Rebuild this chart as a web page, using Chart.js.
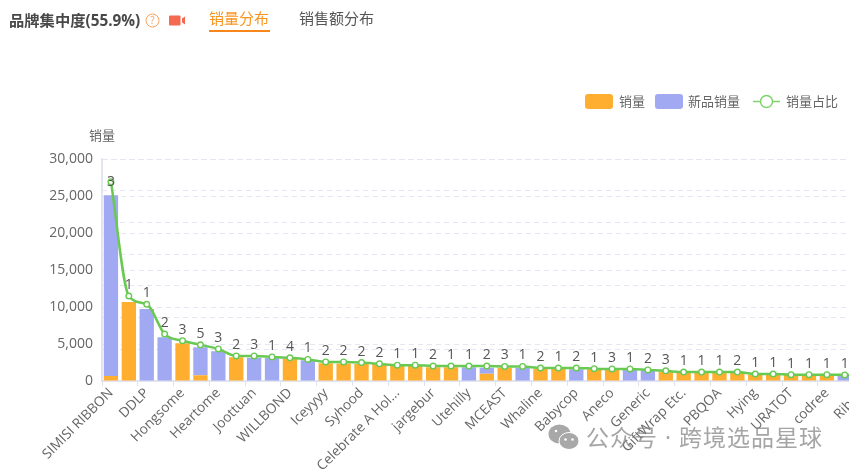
<!DOCTYPE html>
<html lang="zh">
<head>
<meta charset="utf-8">
<script src="https://cdn.jsdelivr.net/npm/chart.js@4"></script>
<style>
html,body{margin:0;padding:0;background:#fff;width:849px;height:471px;overflow:hidden;font-family:"Open Sans","Noto Sans CJK SC",sans-serif}
#wrap{position:relative;width:849px;height:471px;overflow:hidden}
canvas{position:absolute;left:0;top:0}
.t{position:absolute;white-space:nowrap;line-height:1}
.sw{position:absolute;width:28px;height:15px;border-radius:3px}
</style>
</head>
<body>
<div id="wrap">
<canvas id="c" width="877" height="471"></canvas>
<div class="t" style="left:9px;top:13px;font-size:15.3px;font-weight:700;color:#484848">品牌集中度(55.9%)</div>
<svg style="position:absolute;left:145px;top:13px" width="15" height="15" viewBox="0 0 15 15"><circle cx="7.5" cy="7.5" r="6.5" fill="none" stroke="#f6a35c" stroke-width="1"/><text x="7.5" y="11" text-anchor="middle" font-size="10" fill="#f6a35c" font-family="Open Sans">?</text></svg>
<svg style="position:absolute;left:169px;top:15px" width="17" height="11" viewBox="0 0 17 11"><rect x="0" y="0.5" width="11.5" height="10" rx="1" fill="#f4694f"/><path d="M13 3.5 L16 1.5 V9.5 L13 7.5Z" fill="#f4694f"/></svg>
<div class="t" style="left:209px;top:11px;font-size:15px;color:#f7941d">销量分布</div>
<div style="position:absolute;left:209px;top:30px;width:61px;height:2px;background:#f7861b"></div>
<div class="t" style="left:299px;top:11px;font-size:15px;color:#555">销售额分布</div>
<div class="sw" style="left:585px;top:94px;background:#ffae2f"></div>
<div class="t" style="left:619px;top:95px;font-size:13px;color:#666">销量</div>
<div class="sw" style="left:655px;top:94px;background:#a0a9f2"></div>
<div class="t" style="left:688px;top:95px;font-size:13px;color:#666">新品销量</div>
<svg style="position:absolute;left:752px;top:93px" width="29" height="17" viewBox="0 0 29 17"><path d="M1 8.5H28" stroke="#7fd36a" stroke-width="1.5"/><circle cx="14.5" cy="8.5" r="6" fill="#fff" stroke="#7fd36a" stroke-width="1.5"/></svg>
<div class="t" style="left:786px;top:95px;font-size:13px;color:#666">销量占比</div>
<div class="t" style="left:89px;top:129px;font-size:13px;color:#666">销量</div>
<svg style="position:absolute;left:548px;top:423px" width="32" height="28" viewBox="0 0 32 28"><ellipse cx="11.5" cy="11" rx="11" ry="9.5" fill="#a8a8a8"/><ellipse cx="21" cy="18" rx="10" ry="8.5" fill="#a8a8a8" stroke="#fff" stroke-width="1"/><circle cx="17.5" cy="16.5" r="1.3" fill="#fff"/><circle cx="24.5" cy="16.5" r="1.3" fill="#fff"/><circle cx="8" cy="8" r="1.3" fill="#fff"/></svg>
<div class="t" style="left:586px;top:426px;font-size:23px;color:rgba(130,130,130,.72);letter-spacing:1px">公众号 · 跨境选品星球</div>
</div>
<script>
const categories = ["SIMISI RIBBON","b1","DDLP","b3","Hongsome","b5","Heartome","b7","Joottuan","b9","WILLBOND","b11","Iceyyyy","b13","Syhood","b15","Celebrate A Hol...","b17","jargebur","b19","Utehilly","b21","MCEAST","b23","Whaline","b25","Babycop","b27","Aneco","b29","Generic","b31","GiftWrap Etc.","b33","PBQOA","b35","Hying","b37","URATOT","b39","codree","b41","Ribon"];
const salesValues = [680,10680,0,0,5090,770,0,3200,0,0,3000,0,2400,2350,2300,2250,2050,2050,1850,1850,0,990,1800,0,1650,1650,0,1600,1550,0,0,1250,1150,1150,1100,1100,850,800,800,780,770,0,700];
const newProductValues = [24420,0,9730,5900,0,3780,4010,0,3150,3100,0,2800,0,0,0,0,0,0,0,0,1850,810,0,1750,0,0,1600,0,0,1500,1450,0,0,0,0,0,0,0,0,0,0,720,0];
const shareValues = [31.4,13.4,12.1,7.4,6.35,5.7,5.05,3.95,3.95,3.8,3.65,3.4,3.0,3.0,2.9,2.7,2.5,2.5,2.35,2.35,2.35,2.35,2.3,2.3,2.05,2.05,2.05,1.95,1.9,1.9,1.75,1.6,1.4,1.4,1.4,1.4,1.1,1.1,1.0,1.0,1.0,0.95,0.9];
const pointLabels = [3,1,1,2,3,5,3,2,3,1,4,1,2,2,2,2,1,1,2,1,1,2,3,1,2,1,2,1,3,1,2,3,1,1,1,2,1,1,1,1,1,1,1];
const yTicksMax = 30000, yStep = 5000, shareMax = 35, shareStep = 5;
const FONT = '"Open Sans","Noto Sans CJK SC",sans-serif';
const gridColor = '#e4e6f2';

const lineLabelPlugin = {
  id:'lineLabels',
  afterDatasetsDraw(chart){
    const meta = chart.getDatasetMeta(2), ctx = chart.ctx;
    ctx.save();
    ctx.font = '14px ' + FONT;
    ctx.fillStyle = '#555';
    ctx.textAlign = 'center';
    ctx.textBaseline = 'middle';
    meta.data.forEach((p,i)=>{
      const y = i === 0 ? p.y : p.y - 11;
      ctx.fillText(String(pointLabels[i]), p.x, y);
    });
    ctx.restore();
  }
};

new Chart(document.getElementById('c'),{
  data:{
    labels:categories,
    datasets:[
      {type:'bar',label:'销量',data:salesValues,backgroundColor:'#ffae2f',stack:'s',order:2,yAxisID:'y',barPercentage:0.8,categoryPercentage:1},
      {type:'bar',label:'新品销量',data:newProductValues,backgroundColor:'#a0a9f2',stack:'s',order:2,yAxisID:'y',barPercentage:0.8,categoryPercentage:1},
      {type:'line',label:'销量占比',data:shareValues,yAxisID:'y1',order:1,borderColor:'#69c952',borderWidth:2.5,tension:0.4,cubicInterpolationMode:'monotone',pointRadius:2.8,pointBorderWidth:1.4,pointBackgroundColor:'#fff',pointBorderColor:'#69c952',clip:false}
    ]
  },
  options:{
    responsive:false,
    animation:false,
    devicePixelRatio:1,
    layout:{padding:{left:0,right:0,top:159,bottom:0}},
    plugins:{legend:{display:false},title:{display:false},tooltip:{enabled:false}},
    scales:{
      x:{
        stacked:true,
        offset:true,
        border:{color:'#e2e4f0',width:2},
        grid:{offset:true,drawOnChartArea:false,drawTicks:true,tickLength:5,
          tickColor:c=>c.index%2===0?'#dfe1ee':'rgba(0,0,0,0)',tickWidth:1},
        ticks:{autoSkip:false,minRotation:45,maxRotation:45,padding:-1,color:'#666',font:{size:13.7,family:FONT},
          callback(v,i){return i%2===0?categories[i]:'';}},
        afterFit(s){s.height=90;}
      },
      y:{
        stacked:true,position:'left',min:0,max:yTicksMax,
        border:{color:'#e2e4f0',width:2,dash:[5,4]},
        grid:{color:gridColor,lineWidth:1,drawTicks:false},
        ticks:{stepSize:yStep,padding:9,color:'#666',font:{size:14,family:FONT},callback:v=>v.toLocaleString('en-US')},
        afterFit(s){s.width=102;}
      },
      y1:{
        position:'right',min:0,max:shareMax,
        border:{display:false,dash:[5,4]},
        grid:{color:gridColor,lineWidth:1,drawTicks:false},
        ticks:{stepSize:shareStep,display:false},
        afterFit(s){s.width=0;}
      }
    }
  },
  plugins:[lineLabelPlugin]
});
</script>
</body>
</html>
